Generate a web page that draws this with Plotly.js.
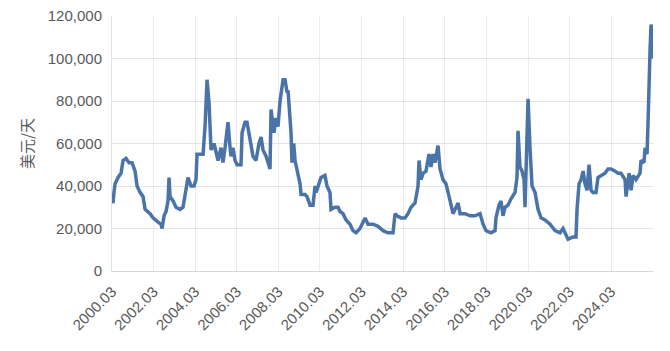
<!DOCTYPE html>
<html>
<head>
<meta charset="utf-8">
<script src="https://cdn.plot.ly/plotly-3.0.1.min.js"></script>
<style>html,body{margin:0;padding:0;background:#fff;}#chart{width:670px;height:351px;}</style>
</head>
<body>
<div id="chart"></div>
<script>
const dates = [
"2000-03-01","2000-03-18","2000-04-05","2000-04-23","2000-06-15","2000-08-07","2000-09-11","2000-11-03","2000-12-25",
"2001-02-16","2001-04-10","2001-05-15","2001-07-07","2001-08-29","2001-10-03","2001-12-30",
"2002-02-20","2002-03-27","2002-05-19","2002-07-10","2002-07-28","2002-09-01","2002-10-06","2002-11-10","2002-11-28","2002-12-15",
"2003-02-06","2003-03-30","2003-06-08","2003-07-31","2003-09-04","2003-10-27","2003-12-18",
"2004-02-09","2004-03-15","2004-04-02","2004-05-25","2004-07-17","2004-08-21","2004-09-08","2004-09-25","2004-10-30","2004-11-17","2004-12-04",
"2005-01-26","2005-03-02","2005-04-06","2005-05-28","2005-07-02","2005-08-07","2005-09-28","2005-11-03","2005-11-20","2005-12-25",
"2006-01-30","2006-03-06","2006-05-15","2006-06-02","2006-07-24","2006-08-28","2006-10-20","2006-12-11",
"2007-02-02","2007-03-26","2007-05-01","2007-06-05","2007-07-28","2007-10-06","2007-10-24","2007-12-15",
"2008-01-19","2008-02-23","2008-03-30","2008-04-16","2008-05-22","2008-06-26","2008-07-31","2008-08-17","2008-09-21","2008-10-09","2008-10-25","2008-11-10","2008-11-25","2008-12-18",
"2009-01-23","2009-03-16","2009-04-03","2009-06-12","2009-07-17","2009-09-08","2009-10-30","2009-12-05","2009-12-23",
"2010-01-27","2010-03-20","2010-05-28","2010-07-02","2010-08-24","2010-09-11","2010-11-20",
"2011-01-12","2011-02-16","2011-04-10","2011-06-02","2011-08-11","2011-10-02","2011-11-24",
"2012-02-02","2012-03-26","2012-05-01","2012-06-22","2012-09-18","2012-12-15",
"2013-03-13","2013-06-08","2013-09-04","2013-10-09","2013-11-13",
"2014-01-23","2014-04-03","2014-05-25","2014-07-17","2014-09-25","2014-10-12","2014-11-17","2014-12-04",
"2015-01-08","2015-02-13","2015-04-06","2015-05-28","2015-07-02","2015-08-07","2015-09-11","2015-11-03","2015-12-08",
"2016-01-30","2016-03-23","2016-06-02","2016-07-24","2016-09-15","2016-10-20","2016-11-24",
"2017-02-20","2017-05-19","2017-07-10","2017-08-14","2017-11-10",
"2018-01-02","2018-02-23","2018-05-22","2018-07-31","2018-08-17","2018-10-09","2018-11-13","2018-12-18",
"2019-01-23","2019-03-16","2019-05-08","2019-07-17","2019-08-21","2019-09-08","2019-10-12","2019-11-17","2019-12-23",
"2020-01-09","2020-02-13","2020-03-02","2020-04-05","2020-05-11","2020-07-02","2020-08-24","2020-10-16","2020-12-25",
"2021-03-23","2021-06-19","2021-09-15","2021-11-06","2021-12-11",
"2022-02-02","2022-05-01","2022-06-22","2022-07-10","2022-08-14","2022-09-18","2022-10-24","2022-11-28",
"2023-01-02","2023-02-06","2023-03-13","2023-04-16","2023-06-08","2023-07-13","2023-09-04","2023-11-13",
"2024-01-05","2024-02-27","2024-05-08","2024-06-29","2024-08-21","2024-10-30","2024-11-17",
"2025-01-09","2025-02-13","2025-03-20","2025-05-11","2025-07-20","2025-08-07","2025-09-28","2025-10-16","2025-11-20","2025-12-08","2025-12-25",
"2026-01-12","2026-01-30","2026-02-16","2026-02-25"
];
const rates = [
33000,32000,37000,41000,44000,46000,52000,53000,51000,
51000,47000,40000,37000,35000,29000,27000,
25000,24000,23000,22000,20000,26000,28000,33000,44000,35000,
33000,30000,29000,30000,35000,44000,40000,
40000,43000,55000,55000,55000,68000,79000,90000,79000,65000,57000,
60000,55000,52000,58000,51000,58000,70000,58000,54000,58000,
52000,50000,50000,65000,70000,70000,62000,54000,
52000,60000,63000,57000,54000,48000,76000,65000,
72000,68000,80000,84000,90000,90000,84000,85000,72000,65000,51000,58000,60000,52000,
47000,41000,36000,36000,35000,31000,31000,40000,37000,
40000,44000,45000,40000,37000,29000,30000,
30000,28000,27000,24000,22000,19000,18000,
20000,23000,25000,22000,22000,21000,
19000,18000,18000,27000,26000,
25000,25000,27000,30000,32000,35000,40000,52000,
43000,46000,47000,55000,49000,55000,51000,59000,48000,
43000,41000,33000,27000,30000,32000,27000,
27000,26000,26000,26000,27000,
22000,19000,18000,19000,25000,31000,33000,26000,
30000,31000,34000,37000,44000,66000,49000,47000,43000,
30000,58000,81000,58000,40000,37000,29000,25000,24000,
22000,19000,18000,20000,18000,
15000,16000,16000,29000,41000,43000,47000,41000,
38000,50000,38000,37000,37000,44000,45000,46000,
48000,48000,47000,46000,46000,43000,35000,
46000,38000,45000,43000,46000,52000,51000,58000,55000,70000,93000,
104000,116000,113000,100000
];
const tickDates = ["2000-03-01","2002-03-01","2004-03-01","2006-03-01","2008-03-01","2010-03-01","2012-03-01","2014-03-01","2016-03-01","2018-03-01","2020-03-01","2022-03-01","2024-03-01"];
const tickLabels = ["2000.03","2002.03","2004.03","2006.03","2008.03","2010.03","2012.03","2014.03","2016.03","2018.03","2020.03","2022.03","2024.03"];
const yTicks = [0,20000,40000,60000,80000,100000,120000];
const yTickLabels = ["0","20,000","40,000","60,000","80,000","100,000","120,000"];
const yTitle = "美元/天";

const fontFam = "Liberation Sans, Arial, Noto Sans CJK SC, sans-serif";
Plotly.newPlot("chart", [{
  x: dates, y: rates, type: "scatter", mode: "lines",
  line: {color: "#4a74a8", width: 3.5},
  hoverinfo: "x+y"
}], {
  width: 670, height: 351,
  margin: {l: 112, r: 17, t: 16, b: 80},
  paper_bgcolor: "#ffffff", plot_bgcolor: "#ffffff",
  showlegend: false,
  font: {family: fontFam, size: 14, color: "#595959"},
  xaxis: {
    type: "date",
    range: ["2000-03-01", "2026-03-05"],
    tickmode: "array", tickvals: tickDates, ticktext: tickLabels,
    tickangle: -45,
    showgrid: true, gridcolor: "#ececec", gridwidth: 1,
    zeroline: false, showline: true, linecolor: "#d9d9d9", linewidth: 1,
    ticks: "outside", ticklen: 5, tickcolor: "rgba(0,0,0,0)",
    tickfont: {family: fontFam, size: 15, color: "#595959"}
  },
  yaxis: {
    range: [0, 120000],
    tickmode: "array", tickvals: yTicks, ticktext: yTickLabels,
    showgrid: true, gridcolor: "#e4e4e4", gridwidth: 1,
    zeroline: false, showline: true, linecolor: "#e4e4e4",
    ticks: "outside", ticklen: 6, tickcolor: "rgba(0,0,0,0)",
    tickfont: {family: fontFam, size: 15, color: "#595959"},
    title: {text: yTitle, standoff: 10, font: {family: "Noto Sans CJK SC, sans-serif", size: 15, color: "#595959"}}
  }
}, {staticPlot: true});
</script>
</body>
</html>
